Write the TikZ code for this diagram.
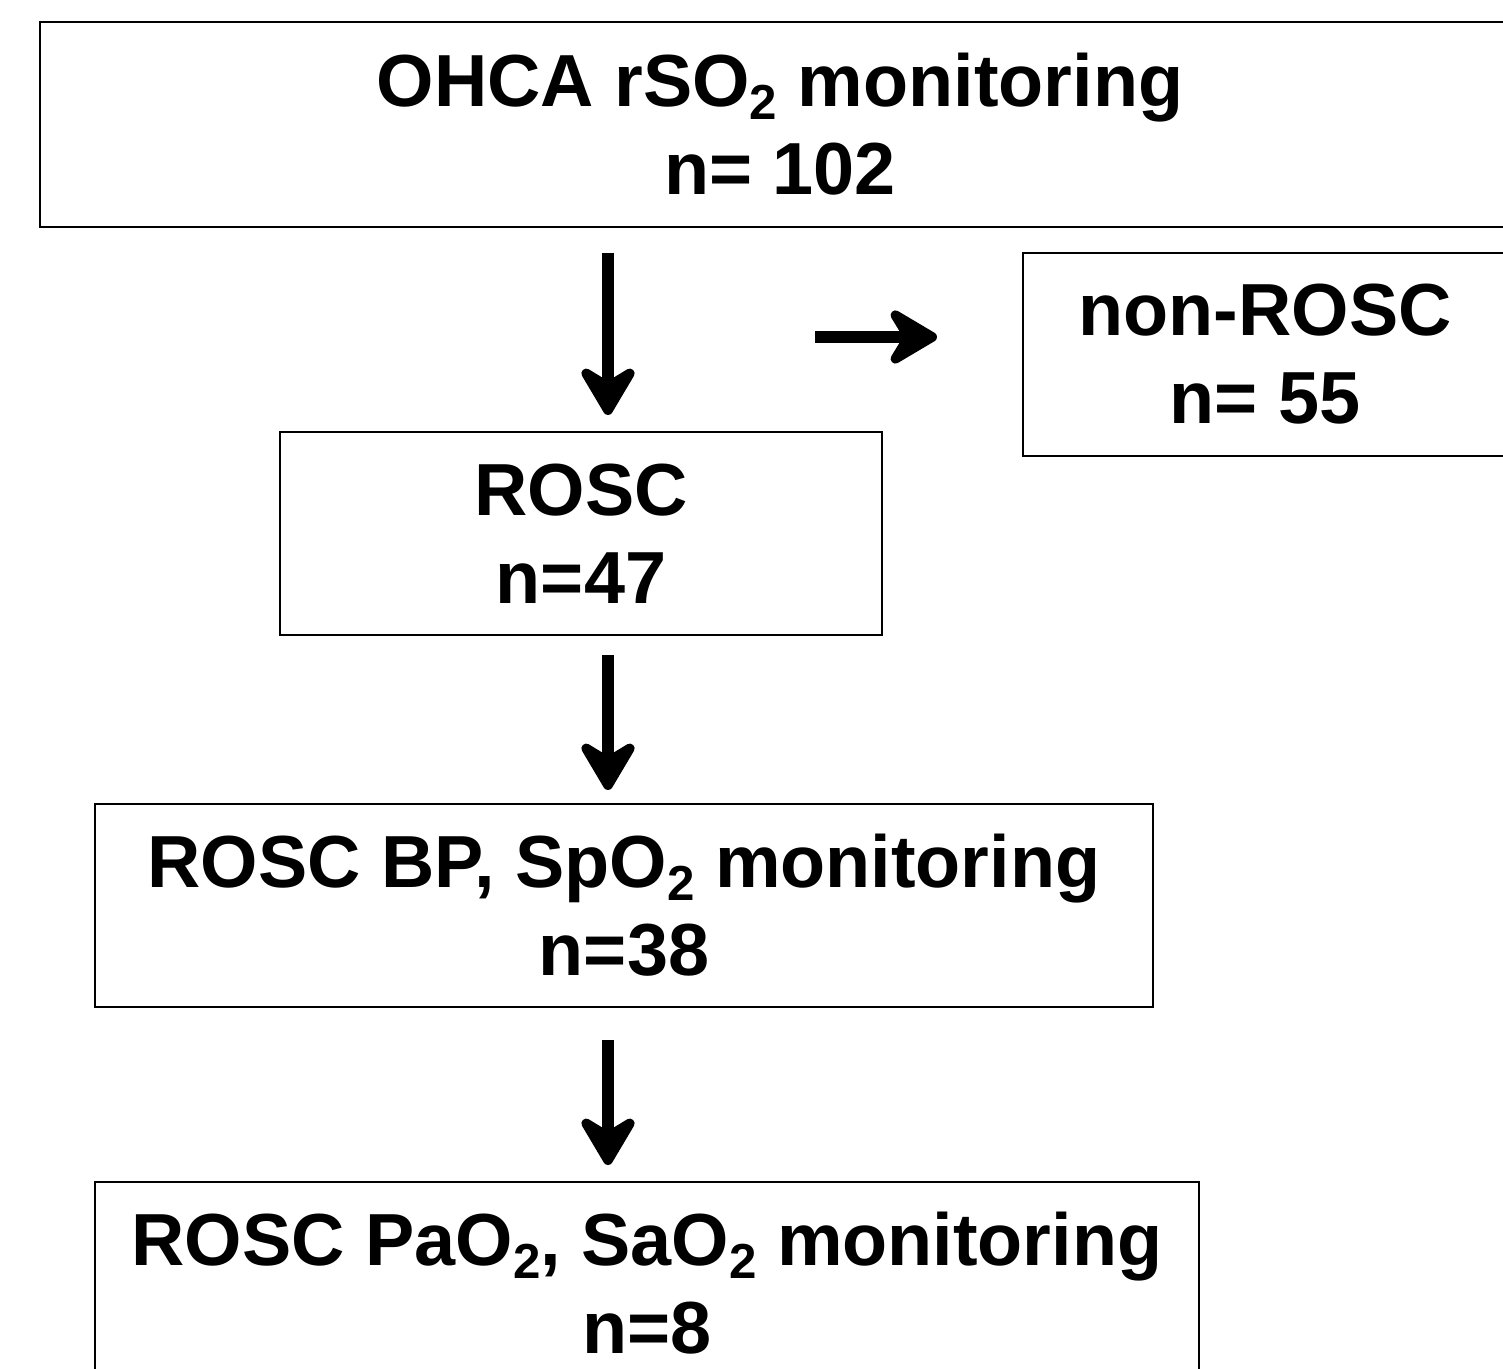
\documentclass[tikz,border=0pt]{standalone}
\usepackage{fontspec}
\setmainfont{Liberation Sans}
\usetikzlibrary{arrows.meta}
\newcommand{\lowsub}[1]{\raisebox{-3.6pt}{\fontsize{14}{14}\selectfont #1}}

\begin{document}
\begin{tikzpicture}[>=latex,
	box/.style={draw, line width=0.8pt, align=center, inner sep=0pt,
		font=\fontsize{21}{25}\selectfont\bfseries},
	arr/.style={line width=3.4pt, -{Stealth[length=17pt, width=20pt, inset=6pt, round]}}]
	%%%	Frame
	\useasboundingbox (0,0) rectangle (15.03,-13.69);
	\clip (0,0) rectangle (15.03,-13.69);
	%%%	Boxes
	\node[box, minimum width=14.8cm, minimum height=2.05cm] (ohca) at (7.80,-1.245)
		{OHCA rSO\lowsub{2} monitoring\\ n= 102};
	\node[box, minimum width=4.84cm, minimum height=2.03cm] (nonrosc) at (12.65,-3.545)
		{non-ROSC\\ n= 55};
	\node[box, minimum width=6.02cm, minimum height=2.03cm] (rosc) at (5.81,-5.335)
		{ROSC\\ n=47};
	\node[box, minimum width=10.58cm, minimum height=2.03cm] (bp) at (6.24,-9.055)
		{ROSC BP, SpO\lowsub{2} monitoring\\ n=38};
	\node[box, minimum width=11.04cm, minimum height=2.03cm] (pao) at (6.47,-12.835)
		{ROSC PaO\lowsub{2}, SaO\lowsub{2} monitoring\\ n=8};
	%%%	Arrows
	\coordinate (a1) at (6.08,-2.53);
	\coordinate (b1) at (6.08,-4.15);
	\coordinate (a2) at (6.08,-6.55);
	\coordinate (b2) at (6.08,-7.90);
	\coordinate (a3) at (6.08,-10.40);
	\coordinate (b3) at (6.08,-11.65);
	\coordinate (a4) at (8.15,-3.37);
	\coordinate (b4) at (9.37,-3.37);
	\draw[arr] (a1) -- (b1);
	\draw[arr] (a2) -- (b2);
	\draw[arr] (a3) -- (b3);
	\draw[arr] (a4) -- (b4);
\end{tikzpicture}
\end{document}
